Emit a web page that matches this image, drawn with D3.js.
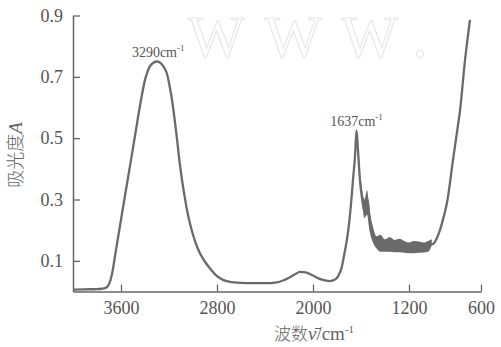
<!DOCTYPE html>
<html>
<head>
<meta charset="utf-8">
<script src="https://cdn.jsdelivr.net/npm/d3@7"></script>
<style>
  html, body { margin: 0; padding: 0; background: #fff; }
  svg { display: block; }
</style>
</head>
<body>
<svg id="chart" width="501" height="347"></svg>
<script>
// spectrum (wavenumber in cm-1, absorbance)
const wavenumbers = [4000, 3900, 3800, 3760, 3733, 3700, 3675, 3642, 3592, 3542, 3492, 3442, 3400, 3358, 3330, 3300, 3270, 3240, 3217, 3195, 3175, 3140, 3108, 3070, 3042, 3000, 2960, 2942, 2900, 2858, 2800, 2750, 2700, 2600, 2500, 2400, 2300, 2250, 2200, 2150, 2108, 2060, 2000, 1950, 1900, 1858, 1820, 1790, 1760, 1740, 1717, 1700, 1680, 1667, 1650, 1637, 1625, 1608, 1590, 1570, 1555, 1545, 1530, 1500, 1470, 1420, 1380, 1330, 1280, 1230, 1180, 1130, 1080, 1040, 1000, 967, 942, 910, 883, 833, 800, 775, 733, 692];
const absorbance = [0.006, 0.007, 0.008, 0.009, 0.011, 0.024, 0.057, 0.135, 0.253, 0.37, 0.487, 0.605, 0.69, 0.735, 0.746, 0.750, 0.745, 0.73, 0.71, 0.67, 0.625, 0.52, 0.41, 0.31, 0.25, 0.185, 0.14, 0.125, 0.097, 0.075, 0.05, 0.038, 0.032, 0.028, 0.027, 0.027, 0.03, 0.036, 0.045, 0.056, 0.064, 0.062, 0.052, 0.042, 0.036, 0.034, 0.038, 0.05, 0.08, 0.12, 0.17, 0.22, 0.30, 0.363, 0.44, 0.525, 0.46, 0.36, 0.30, 0.26, 0.29, 0.30, 0.24, 0.19, 0.165, 0.16, 0.162, 0.155, 0.158, 0.15, 0.148, 0.147, 0.148, 0.152, 0.155, 0.175, 0.2, 0.245, 0.29, 0.43, 0.52, 0.59, 0.755, 0.886];

// noisy band under the 1637 peak
const bandWn = [1600, 1570, 1550, 1530, 1500, 1470, 1440, 1400, 1360, 1320, 1280, 1240, 1200, 1160, 1120, 1080, 1040, 1010];
const bandHi = [0.36, 0.30, 0.33, 0.27, 0.21, 0.18, 0.185, 0.17, 0.178, 0.168, 0.172, 0.165, 0.16, 0.165, 0.163, 0.16, 0.165, 0.17];
const bandLo = [0.34, 0.24, 0.25, 0.20, 0.16, 0.14, 0.13, 0.13, 0.13, 0.128, 0.128, 0.126, 0.125, 0.125, 0.126, 0.127, 0.13, 0.15];

const xTicks = [3600, 2800, 2000, 1200, 600];
const yTicks = [0.1, 0.3, 0.5, 0.7, 0.9];
const peaks = [{ wn: 3290, a: 0.748, label: "3290cm" }, { wn: 1637, a: 0.525, label: "1637cm" }];

const ink = "#666";
const serif = "'Liberation Serif', 'DejaVu Serif', serif";
const cjk = "'Noto Sans CJK SC', sans-serif";

const svg = d3.select("#chart");

const x = d3.scaleLinear().domain([4000, 600]).range([73, 481]);
const y = d3.scaleLinear().domain([0, 0.9]).range([291.5, 15.5]);

// faint watermark
svg.append("text")
  .attr("x", 188)
  .attr("y", 57)
  .attr("font-family", serif)
  .attr("font-size", 60)
  .attr("letter-spacing", 20)
  .attr("fill", "none")
  .attr("stroke", "#e6e6e6")
  .attr("stroke-width", 1.1)
  .text("WWW.");

// axes
const xAxis = svg.append("g")
  .attr("transform", `translate(0,${y(0)})`)
  .call(d3.axisBottom(x).tickValues(xTicks).tickSizeInner(-7).tickSizeOuter(0).tickPadding(10).tickFormat(d3.format("d")));

const yAxis = svg.append("g")
  .attr("transform", `translate(${x(4000)},0)`)
  .call(d3.axisLeft(y).tickValues(yTicks).tickSizeInner(-7).tickSizeOuter(0).tickPadding(10).tickFormat(d3.format(".1f")));

[xAxis, yAxis].forEach(g => {
  g.select(".domain").attr("stroke", ink).attr("stroke-width", 1.5);
  g.selectAll(".tick line").attr("stroke", ink).attr("stroke-width", 1.3);
  g.selectAll(".tick text")
    .attr("fill", "#555")
    .attr("font-family", serif)
    .attr("font-size", 18);
});

// spectrum
const pts = wavenumbers.map((w, i) => [w, absorbance[i]]);
const line = d3.line()
  .x(d => x(d[0]))
  .y(d => y(d[1]))
  .curve(d3.curveMonotoneX);

const band = d3.area()
  .x((d, i) => x(bandWn[i]))
  .y0((d, i) => y(bandLo[i]))
  .y1((d, i) => y(bandHi[i]))
  .curve(d3.curveMonotoneX);

svg.append("path")
  .datum(bandWn)
  .attr("d", band)
  .attr("fill", "#6a6a6a");

svg.append("path")
  .datum(pts)
  .attr("d", line)
  .attr("fill", "none")
  .attr("stroke", "#6a6a6a")
  .attr("stroke-width", 2.3)
  .attr("stroke-linejoin", "round");

// peak labels
peaks.forEach(p => {
  const t = svg.append("text")
    .attr("x", x(p.wn))
    .attr("y", y(p.a) - 5)
    .attr("text-anchor", "middle")
    .attr("font-family", serif)
    .attr("font-size", 14)
    .attr("fill", "#555");
  t.append("tspan").text(p.label);
  t.append("tspan").attr("font-size", 9).attr("dy", -6).text("-1");
});

// axis titles
const xt = svg.append("text")
  .attr("x", 314)
  .attr("y", 340)
  .attr("text-anchor", "middle")
  .attr("fill", "#666")
  .attr("font-size", 17);
xt.append("tspan").attr("font-family", cjk).attr("font-weight", 300).text("波数");
xt.append("tspan").attr("font-family", serif).attr("font-style", "italic").attr("font-size", 19).text("\u03BD\u0304");
xt.append("tspan").attr("font-family", serif).attr("font-size", 19).text("/cm");
xt.append("tspan").attr("font-family", serif).attr("font-size", 11).attr("dy", -7).text("-1");

const yt = svg.append("text")
  .attr("transform", "translate(22,155) rotate(-90)")
  .attr("text-anchor", "middle")
  .attr("fill", "#666")
  .attr("font-size", 18);
yt.append("tspan").attr("font-family", cjk).attr("font-weight", 300).text("吸光度");
yt.append("tspan").attr("font-family", serif).attr("font-style", "italic").attr("font-size", 19).text("A");
</script>
</body>
</html>
